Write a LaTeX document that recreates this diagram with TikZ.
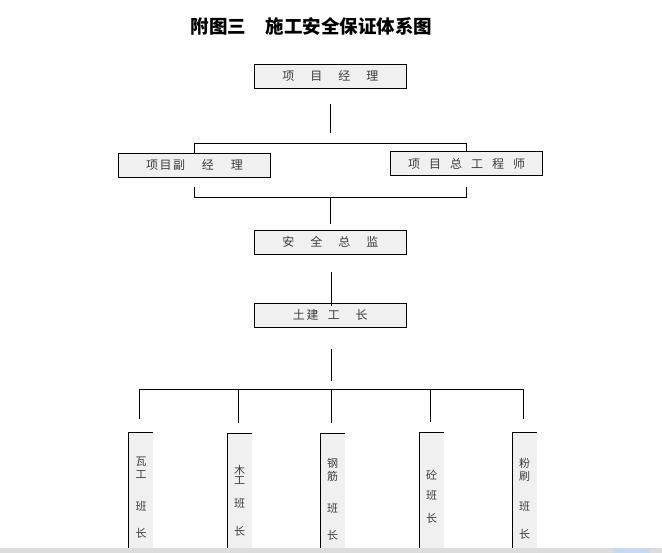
\documentclass[tikz,border=0pt]{standalone}
\usepackage{fontspec}
\setmainfont{Noto Sans CJK SC}
\usepackage{tikz}
\usetikzlibrary{calc,positioning}
\definecolor{boxgray}{RGB}{240,240,240}
\definecolor{txtgray}{RGB}{60,60,60}
\definecolor{bandgray}{RGB}{220,220,220}
\definecolor{bandblue}{RGB}{200,218,240}
\tikzset{
    x=1pt,y=-1pt,line width=1pt,
    post/.style ={rectangle, draw, fill=boxgray, text=txtgray, inner sep=0pt,
        minimum width=152pt, minimum height=24pt, font=\fontsize{12}{12}\selectfont},
    crew/.style ={rectangle, fill=boxgray, inner sep=0pt, anchor=north west,
        minimum width=24.4pt, minimum height=116pt},
    crewtxt/.style = {text=txtgray, inner sep=0pt, align=center, font=\fontsize{11}{11}\selectfont}
}
\begin{document}
\begin{tikzpicture}
    \useasboundingbox (0,0) rectangle (662,553);
    \node[font=\fontsize{18.5}{18.5}\selectfont\bfseries, inner sep=0pt] (title) at (311.5,26)
        {附图三\hspace{20pt}施工安全保证体系图};

    \node[post] (pm) at (330.3,75.8) {项\hspace{16pt}目\hspace{16pt}经\hspace{16pt}理};
    \node[post] (dpm) at (194.5,165.3) {项\hspace{1.5pt}目\hspace{1.5pt}副\hspace{17pt}经\hspace{17pt}理};
    \node[post] (ce) at (466.5,163.5) {项\hspace{9pt}目\hspace{9pt}总\hspace{9pt}工\hspace{9pt}程\hspace{9pt}师};
    \node[post] (sd) at (330.3,242.3) {安\hspace{16pt}全\hspace{16pt}总\hspace{16pt}监};
    \node[post] (cf) at (330.3,315.3) {土\hspace{1.7pt}建\hspace{9.3pt}工\hspace{15.7pt}长};

    \node[crew] (wa) at (128.3,432.3) {};
    \node[crew] (mu) at (227.3,433.3) {};
    \node[crew] (gj) at (320.3,433.3) {};
    \node[crew] (tong) at (419.3,432.3) {};
    \node[crew] (fs) at (512.3,432.3) {};
    \foreach \n in {wa,mu,gj,tong,fs}
        \draw (\n.south west) |- (\n.north east);

    \node[crewtxt] (wa-t) at (141,497.9) {瓦\\[2.3pt]工\\[20.7pt]班\\[16.3pt]长};
    \node[crewtxt] (mu-t) at (239.5,500.9) {木\\[-0.3pt]工\\[11.6pt]班\\[17.4pt]长};
    \node[crewtxt] (gj-t) at (332.5,499.2) {钢\\[2.4pt]筋\\[20.6pt]班\\[15.7pt]长};
    \node[crewtxt] (tong-t) at (431.5,496.7) {砼\\[9pt]班\\[12.3pt]长};
    \node[crewtxt] (fs-t) at (524.5,498.7) {粉\\[2.4pt]刷\\[18.3pt]班\\[17pt]长};

    \draw ($(pm.south)+(0,16.2)$) -- ($(pm.south)+(0,45.2)$);
    \draw (dpm.north) -- ++(0,-9.6) -| (ce.north);
    \draw ($(dpm.south)+(0,9.4)$) -- ++(0,10.6) -| ($(ce.south)+(0,11.4)$);
    \draw ($(sd.north)+(0,-33)$) -- ($(sd.north)+(0,-5.6)$);
    \draw ($(sd.south)+(1,17.7)$) -- ($(cf.north)+(1,3.4)$);
    \draw ($(cf.south)+(1,21.7)$) -- ($(cf.south)+(1,53.4)$);

    \draw ($(wa.north)+(-1.2,-13)$) |- ($(fs.north)+(-1.2,-43)$) -- ($(fs.north)+(-1.2,-13)$);
    \foreach \n/\d/\e in {mu/44/10.6,gj/44/10,tong/43/10}
        \draw ($(\n.north)+(-1.2,-\d)$) -- ($(\n.north)+(-1.2,-\e)$);

    \fill[bandgray] (0,548.3) rectangle (662,553);
    \fill[bandblue] (613,548.3) rectangle (650,553);
\end{tikzpicture}
\end{document}
